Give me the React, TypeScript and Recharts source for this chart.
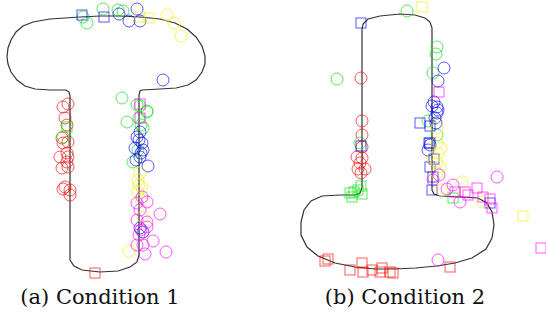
import { ScatterChart, Scatter, XAxis, YAxis } from 'recharts'

type Pt = { x: number; y: number }
const pts = (list: number[][]): Pt[] => list.map(([x, y]) => ({ x, y }))

// outlines of the two track shapes (closed paths)
const tOutline = pts([
  [7, 57], [8, 48], [11, 40], [16, 32], [23, 26], [33, 22], [50, 19], [80, 17], [100, 16], [120, 16],
  [140, 17], [160, 19], [175, 23], [187, 29], [196, 37], [202, 46], [205, 56], [205, 64], [202, 72],
  [196, 80], [188, 85], [176, 88], [160, 89], [142, 90], [140, 91], [139, 95], [139, 255], [137, 262],
  [130, 267], [118, 271], [100, 272], [82, 270], [74, 266], [70, 260], [70, 96], [69, 92], [66, 90],
  [50, 90], [35, 89], [25, 86], [17, 80], [11, 72], [8, 64], [7, 57],
])
const lOutline = pts([
  [362, 30], [363, 24], [368, 19], [380, 16], [400, 14], [415, 15], [425, 18], [430, 22], [432, 28],
  [432, 190], [434, 194], [440, 196], [460, 197], [478, 198], [487, 203], [492, 212], [494, 225],
  [492, 238], [486, 249], [472, 258], [455, 263], [437, 266], [415, 268], [395, 269], [375, 269],
  [355, 267], [335, 263], [318, 256], [307, 247], [301, 235], [301, 222], [304, 210], [311, 201],
  [322, 196], [340, 195], [355, 195], [360, 193], [362, 188], [362, 30],
])

// condition 1
const aRedCircles = pts([
  [68, 104], [63, 107], [65, 118], [67, 125], [62, 138], [68, 142], [63, 143], [67, 153], [60, 157],
  [68, 157], [67, 162], [62, 168], [68, 167], [65, 187], [70, 190], [70, 195], [63, 189],
])
const aRedSquares = pts([[95, 273]])
const aGreenCircles = pts([
  [103, 9], [118, 10], [123, 11], [83, 17], [87, 23], [122, 98], [140, 106], [147, 112], [127, 122],
  [137, 105], [147, 111], [143, 128], [133, 162], [138, 150], [63, 137], [139, 118], [141, 125],
])
const aGreenSquares = pts([[67, 127]])
const aBlueCircles = pts([
  [137, 9], [119, 14], [129, 21], [140, 21], [163, 80], [140, 132], [137, 137], [142, 143], [135, 148],
  [143, 150], [140, 157], [148, 166], [140, 228], [143, 232], [139, 140], [141, 153], [136, 160],
])
const aBlueSquares = pts([[82, 15], [104, 17]])
const aYellowCircles = pts([
  [167, 15], [174, 23], [181, 36], [140, 173], [138, 180], [142, 187], [138, 192], [143, 217], [129, 251],
  [141, 200], [139, 185],
])
const aYellowSquares = pts([[140, 17], [149, 18]])
const aMagentaCircles = pts([
  [142, 197], [137, 203], [147, 202], [140, 210], [160, 214], [137, 220], [147, 222], [153, 241],
  [143, 245], [137, 245], [145, 254], [166, 252], [147, 227], [141, 230], [139, 235],
])
const aMagentaSquares = pts([[140, 104], [140, 118]])

// condition 2
const bRedCircles = pts([
  [361, 78], [362, 121], [362, 135], [362, 147], [357, 157], [362, 158], [360, 163], [358, 169],
  [365, 169], [361, 173],
])
const bRedSquares = pts([
  [325, 261], [328, 259], [350, 270], [362, 263], [363, 272], [372, 270], [382, 268], [380, 272],
  [390, 272], [393, 273], [450, 267],
])
const bGreenCircles = pts([
  [407, 11], [337, 79], [437, 47], [436, 54], [433, 73], [428, 121], [437, 135], [360, 143],
])
const bGreenSquares = pts([
  [350, 193], [354, 192], [358, 190], [361, 186], [362, 194], [352, 197], [453, 198],
])
const bBlueCircles = pts([
  [444, 68], [438, 81], [434, 102], [432, 106], [437, 107], [437, 113], [436, 123], [428, 150],
  [430, 145], [435, 118], [438, 110],
])
const bBlueSquares = pts([
  [361, 23], [420, 123], [430, 126], [429, 143], [361, 146], [430, 143], [434, 159], [430, 167],
  [433, 177], [432, 190], [490, 203],
])
const bYellowCircles = pts([
  [437, 128], [437, 143], [438, 153], [437, 163], [440, 167], [437, 173], [442, 190], [462, 182],
  [482, 202], [441, 148], [433, 158],
])
const bYellowSquares = pts([[422, 7], [523, 216]])
const bMagentaCircles = pts([
  [433, 180], [439, 175], [453, 185], [447, 189], [460, 202], [497, 177], [438, 260],
])
const bMagentaSquares = pts([
  [439, 92], [455, 192], [465, 192], [477, 188], [468, 195], [483, 197], [490, 199], [492, 208],
  [541, 248],
])

const RED = '#ff0000'
const GREEN = '#00e000'
const BLUE = '#0000ff'
const YELLOW = '#f0f000'
const MAGENTA = '#ff00ff'

const circle = (color: string) => (p: any) => (
  <circle cx={p.cx} cy={p.cy} r={6} fill="none" stroke={color} strokeOpacity={0.65} strokeWidth={1} />
)
const square = (color: string) => (p: any) => (
  <rect x={p.cx - 5} y={p.cy - 5} width={10} height={10} fill="none" stroke={color} strokeOpacity={0.65} strokeWidth={1} />
)
const noMark = () => <g />

const series: [Pt[], (p: any) => JSX.Element][] = [
  [aRedCircles, circle(RED)], [aRedSquares, square(RED)],
  [aGreenCircles, circle(GREEN)], [aGreenSquares, square(GREEN)],
  [aBlueCircles, circle(BLUE)], [aBlueSquares, square(BLUE)],
  [aYellowCircles, circle(YELLOW)], [aYellowSquares, square(YELLOW)],
  [aMagentaCircles, circle(MAGENTA)], [aMagentaSquares, square(MAGENTA)],
  [bRedCircles, circle(RED)], [bRedSquares, square(RED)],
  [bGreenCircles, circle(GREEN)], [bGreenSquares, square(GREEN)],
  [bBlueCircles, circle(BLUE)], [bBlueSquares, square(BLUE)],
  [bYellowCircles, circle(YELLOW)], [bYellowSquares, square(YELLOW)],
  [bMagentaCircles, circle(MAGENTA)], [bMagentaSquares, square(MAGENTA)],
]

const captionStyle: React.CSSProperties = {
  position: 'absolute', top: 285, width: 200, textAlign: 'center',
  fontFamily: '"DejaVu Serif", serif', fontSize: 21, color: '#111',
}

export default function App() {
  return (
    <div style={{ position: 'relative', width: 546, height: 320, background: '#fff' }}>
      <style>{'body{margin:0}'}</style>
      <ScatterChart width={546} height={320} margin={{ top: 0, right: 0, bottom: 0, left: 0 }}>
        <XAxis type="number" dataKey="x" domain={[0, 546]} hide />
        <YAxis type="number" dataKey="y" domain={[0, 320]} reversed hide />
        <Scatter data={tOutline} line={{ stroke: '#333', strokeWidth: 1.2 }} shape={noMark} isAnimationActive={false} />
        <Scatter data={lOutline} line={{ stroke: '#333', strokeWidth: 1.2 }} shape={noMark} isAnimationActive={false} />
        {series.map(([data, shape], i) => (
          <Scatter key={i} data={data} shape={shape} isAnimationActive={false} />
        ))}
      </ScatterChart>
      <div style={{ ...captionStyle, left: 0 }}>(a) Condition 1</div>
      <div style={{ ...captionStyle, left: 305 }}>(b) Condition 2</div>
    </div>
  )
}
